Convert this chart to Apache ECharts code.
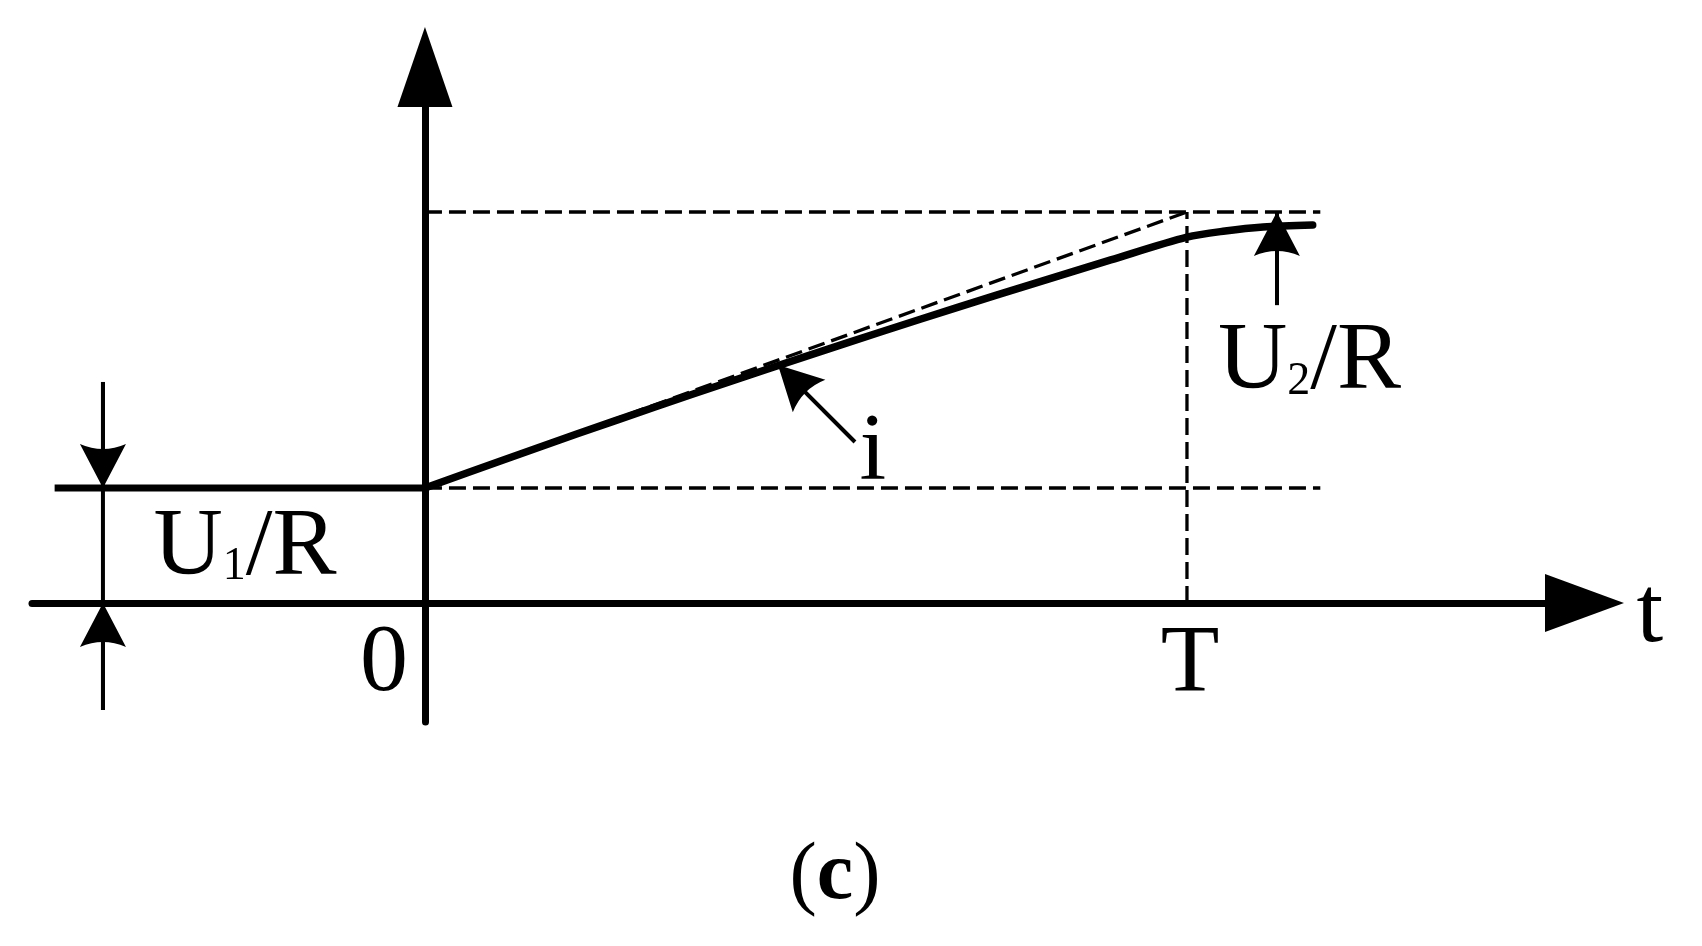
<!DOCTYPE html>
<html>
<head>
<meta charset="utf-8">
<title>Current i(t)</title>
<script src="https://cdn.jsdelivr.net/npm/echarts@6/dist/echarts.min.js"></script>
<style>
	html, body { margin: 0; padding: 0; background: #fff; }
	#chart { width: 1702px; height: 946px; }
</style>
</head>
<body>
<div id="chart"></div>
<script>
/*Current waveform (c)*/

// ______Levels
var T = 10;
var U1R = 1;
var U2R = 3.4;
var dashEnd = 11.75;
var levelStart = -4.86;

// ______Axis ranges
var tRange = [-5.157, 15.217];
var iRange = [-1.035, 4.661];

// ______Current i(t)
var curveT = [0, 1, 2, 3, 4, 5, 6, 7, 8, 9, 10, 10.5, 11, 11.65];
var curveI = [1.0, 1.237, 1.471, 1.700, 1.924, 2.145, 2.361, 2.573, 2.780, 2.983, 3.181, 3.235, 3.270, 3.287];

// ______Annotation arrows [from, to]
var dimX = -4.226;
var dimTop = [1.922, U1R];
var dimBottom = [-0.930, 0];
var u2Arrow = [[11.18, 2.59], [11.18, U2R]];
var iArrow = [[5.643, 1.40], [4.633, 2.07]];

// ______Text
var labelText = ['{m|U}{s|1}{m|/R}', '{m|U}{s|2}{m|/R}', '{m|i}', '{m|0}', '{m|T}', '{m|t}', '{p|(}{b|c}{p|)}'];
var labelPos = [[-2.362, 0.475], [11.608, 2.085], [5.879, 1.30], [-0.538, -0.535], [10.04, -0.55], [16.076, -0.115], [5.381, -2.385]];

var serif = "'Liberation Serif', 'Times New Roman', serif";
var arrowHead = 'path://M0,0 L23,44 Q0,34 -23,44 Z';

function zip(xs, ys) {
	return xs.map(function (x, k) { return [x, ys[k]]; });
}

function seg(pts, width, dashed) {
	return {
		type: 'line',
		data: pts,
		symbol: 'none',
		silent: true,
		animation: false,
		lineStyle: {
			color: '#000',
			width: width,
			type: dashed ? [17, 7] : 'solid',
			cap: 'butt'
		}
	};
}

function txt(size, bold) {
	return {
		fontFamily: serif,
		fontSize: size,
		fontWeight: bold ? 'bold' : 'normal',
		color: '#000',
		opacity: 1
	};
}

var chart = echarts.init(document.getElementById('chart'));

var dimLine = seg([[dimX, dimTop[0]], [dimX, dimBottom[0]]], 4, false);
dimLine.markLine = {
	silent: true,
	animation: false,
	symbol: ['none', arrowHead],
	symbolSize: [46, 44],
	symbolOffset: [[0, 0], [0, 22]],
	label: { show: false },
	lineStyle: { color: '#000', width: 4, type: 'solid' },
	data: [
		[{ coord: [dimX, dimTop[0]] }, { coord: [dimX, dimTop[1]] }],
		[{ coord: [dimX, dimBottom[0]] }, { coord: [dimX, dimBottom[1]] }],
		[{ coord: u2Arrow[0] }, { coord: u2Arrow[1] }],
		[{ coord: iArrow[0] }, { coord: iArrow[1] }]
	]
};

var curve = seg(zip(curveT, curveI), 7.5, false);
curve.smooth = 0.3;
curve.lineStyle.cap = 'round';
curve.z = 5;

var richM = txt(96, false);
richM.lineHeight = 96;
var richS = txt(46, false);
richS.verticalAlign = 'bottom';
richS.padding = [0, 0, 6, 0];
var richP = txt(82, false);
richP.lineHeight = 90;
var richB = txt(82, true);
richB.lineHeight = 90;

var option = {
	backgroundColor: '#fff',
	animation: false,
	grid: {
		left: 32,
		right: 117.5,
		top: 67,
		bottom: 224,
		containLabel: false,
		outerBoundsMode: 'none'
	},
	xAxis: {
		type: 'value',
		min: tRange[0],
		max: tRange[1],
		axisLine: {
			onZero: true,
			symbol: ['none', 'triangle'],
			symbolSize: [58, 79],
			lineStyle: { color: '#000', width: 7 }
		},
		axisTick: { show: false },
		axisLabel: { show: false },
		splitLine: { show: false }
	},
	yAxis: {
		type: 'value',
		min: iRange[0],
		max: iRange[1],
		axisLine: {
			onZero: true,
			symbol: ['none', 'triangle'],
			symbolSize: [55, 80],
			lineStyle: { color: '#000', width: 7 }
		},
		axisTick: { show: false },
		axisLabel: { show: false },
		splitLine: { show: false }
	},
	series: [
		seg([[levelStart, U1R], [0, U1R]], 7, false),
		seg([[0, U1R], [dashEnd, U1R]], 3.3, true),
		seg([[0, U2R], [dashEnd, U2R]], 3.3, true),
		seg([[T, 0], [T, U2R]], 3.3, true),
		seg([[0, U1R], [T, U2R]], 3.3, true),
		curve,
		dimLine,
		{
			type: 'scatter',
			clip: false,
			silent: true,
			symbol: 'circle',
			symbolSize: 1,
			itemStyle: { color: 'rgba(0,0,0,0)', opacity: 1 },
			data: labelPos.map(function (p, k) {
				return { value: p, label: { formatter: labelText[k] } };
			}),
			label: {
				show: true,
				position: 'inside',
				color: '#000',
				opacity: 1,
				rich: { m: richM, s: richS, p: richP, b: richB }
			}
		}
	]
};

chart.setOption(option);

/*Current waveform (c)*/
</script>
</body>
</html>
